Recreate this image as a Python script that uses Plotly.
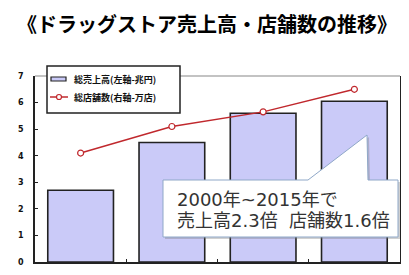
import plotly.graph_objects as go

categories = ["2000年", "2005年", "2010年", "2015年"]
sales = [2.7, 4.5, 5.6, 6.05]
stores = [4.1, 5.1, 5.65, 6.5]
y_ticks = [0, 1, 2, 3, 4, 5, 6, 7]
sales_name = "総売上高(左軸-兆円)"
stores_name = "総店舗数(右軸-万店)"
title_text = "《ドラッグストア売上高・店舗数の推移》"
note_lines = ["2000年~2015年で", "売上高2.3倍  店舗数1.6倍"]

BAR_FILL = "#CACAF8"
EDGE = "#222222"
RED = "#C0282D"

# page offset (default body margin of the html page)
OFF = 8
W, H = 409 - OFF, 275 - OFF
# plot area in page pixels
L, R, T, B = 35, 400, 76, 262


def px(x):
    return (x - L) / (R - L)


def py(y):
    return (B - y) / (B - T)


fig = go.Figure()
fig.add_trace(go.Bar(
    x=categories, y=sales, name=sales_name, width=0.72,
    marker=dict(color=BAR_FILL, line=dict(color=EDGE, width=1.6)),
))
fig.add_trace(go.Scatter(
    x=categories, y=stores, name=stores_name, mode="lines+markers",
    line=dict(color=RED, width=1.5),
    marker=dict(symbol="circle", size=6, color="white",
                line=dict(color=RED, width=1.2)),
))

# callout outline (page pixels)
pts = [(163, 180), (308, 180), (367, 135), (368, 180), (398, 180), (398, 237), (163, 237)]


def path(off=0):
    return "M " + " L ".join(f"{px(x + off)},{py(y + off)}" for x, y in pts) + " Z"


def rect(x0, y0, x1, y1, **kw):
    return dict(type="rect", xref="paper", yref="paper",
                x0=px(x0), x1=px(x1), y0=py(y1), y1=py(y0), **kw)


shapes = [
    dict(type="line", xref="paper", yref="paper", x0=0, x1=1, y0=1, y1=1,
         line=dict(color="#888888", width=1.2), layer="below"),
    # legend
    rect(47, 66, 180, 113, fillcolor="white", line=dict(color=EDGE, width=1.5)),
    rect(51, 77, 66, 81, fillcolor=BAR_FILL, line=dict(color=EDGE, width=1.2)),
    dict(type="line", xref="paper", yref="paper", x0=px(50), x1=px(68), y0=py(97), y1=py(97),
         line=dict(color=RED, width=1.5)),
    dict(type="circle", xref="paper", yref="paper", x0=px(56.5), x1=px(61.5), y0=py(99.5), y1=py(94.5),
         fillcolor="white", line=dict(color=RED, width=1.2)),
    # callout
    dict(type="path", xref="paper", yref="paper", path=path(2),
         fillcolor="rgba(120,120,120,0.35)", line=dict(width=0)),
    dict(type="path", xref="paper", yref="paper", path=path(0),
         fillcolor="white", line=dict(color="#8FA8C8", width=1)),
]

LEG_FONT = dict(family="Noto Sans CJK JP", size=9, color="#111111", weight="bold")
NOTE_FONT = dict(family="DejaVu Sans, Noto Sans CJK JP", size=18, color="#333333")

annotations = [
    dict(text=title_text, xref="paper", yref="paper", x=px(207), y=py(8),
         xanchor="center", yanchor="top", showarrow=False, borderpad=0,
         font=dict(family="Noto Sans CJK JP", size=20, color="#000000", weight="bold")),
    dict(text=sales_name, xref="paper", yref="paper", x=px(72), y=py(79),
         xanchor="left", yanchor="middle", showarrow=False, font=LEG_FONT),
    dict(text=stores_name, xref="paper", yref="paper", x=px(72), y=py(97),
         xanchor="left", yanchor="middle", showarrow=False, font=LEG_FONT),
    dict(text=note_lines[0], xref="paper", yref="paper", x=px(175), y=py(199.5),
         xanchor="left", yanchor="middle", showarrow=False, font=NOTE_FONT),
    dict(text=note_lines[1], xref="paper", yref="paper", x=px(175), y=py(220.5),
         xanchor="left", yanchor="middle", showarrow=False, font=NOTE_FONT),
]

fig.update_layout(
    width=W, height=H,
    margin=dict(l=L - OFF, r=W - (R - OFF), t=T - OFF, b=H - (B - OFF), pad=0, autoexpand=False),
    paper_bgcolor="white", plot_bgcolor="white",
    showlegend=False,
    shapes=shapes, annotations=annotations,
)
fig.update_xaxes(showticklabels=False, showline=True, linecolor=EDGE, linewidth=1.6,
                 ticks="inside", tickson="boundaries", ticklen=3, tickcolor=EDGE,
                 showgrid=False, zeroline=False, automargin=False)
fig.update_yaxes(range=[0, 7], tickvals=y_ticks, ticks="inside", ticklen=3,
                 tickcolor=EDGE, showline=True, mirror=True, linecolor=EDGE,
                 linewidth=1.6, showgrid=False, zeroline=False, ticklabelstandoff=8,
                 automargin=False,
                 tickfont=dict(family="DejaVu Sans", size=8, color="#111111", weight="bold"))

fig.write_html("out.html")
